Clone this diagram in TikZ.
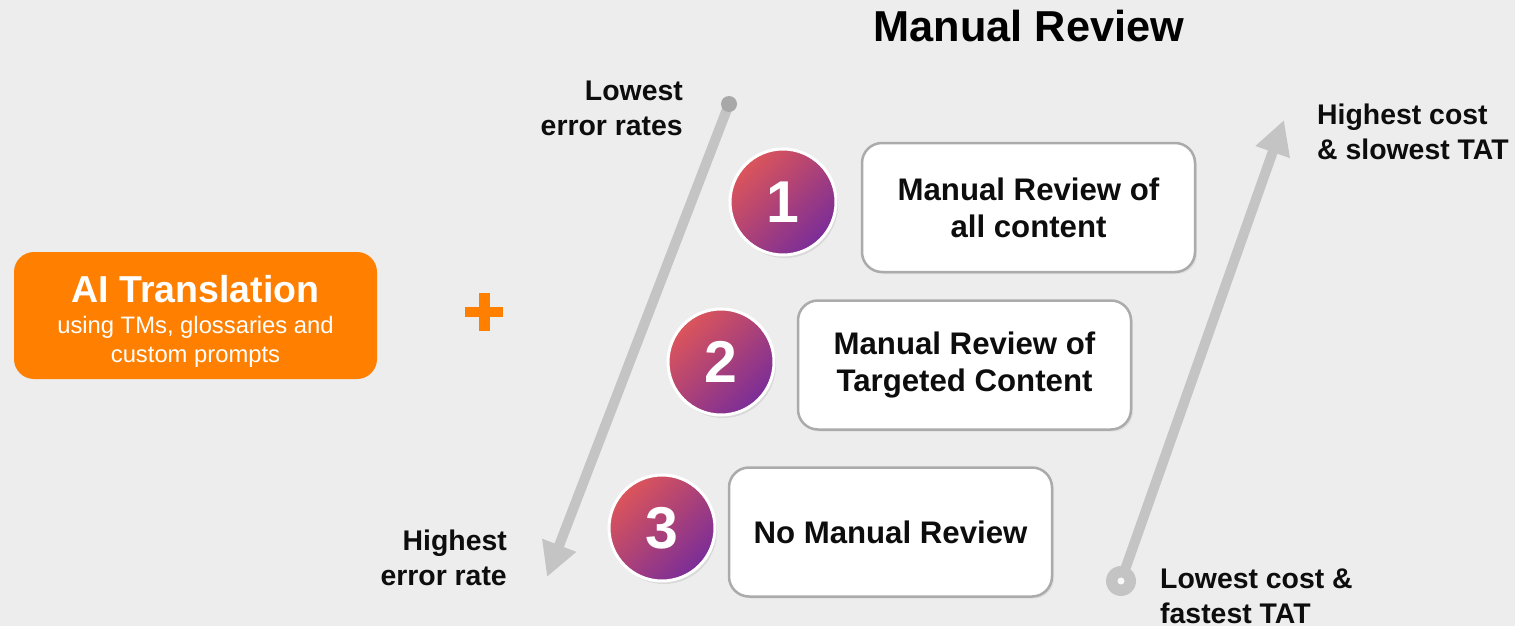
\documentclass[tikz,border=0pt]{standalone}
\usepackage{fontspec}
\setmainfont{Liberation Sans}
\usetikzlibrary{arrows.meta,shadows}
\definecolor{bg}{HTML}{EDEDED}
\definecolor{aiorange}{HTML}{FF8000}
\definecolor{arrowgray}{HTML}{C4C4C4}
\definecolor{dotgray}{HTML}{A8A8A8}
\definecolor{boxborder}{HTML}{ABABAB}
\definecolor{numred}{HTML}{DC555A}
\definecolor{numpurple}{HTML}{7A2D98}
\definecolor{txt}{HTML}{0D0D0D}
\tikzset{
  reviewbox/.style={draw=boxborder, line width=2.5pt, fill=white, rounded corners=20pt,
    minimum height=129pt, align=center, text=txt, font=\bfseries\fontsize{31.2}{37}\selectfont,
    drop shadow={opacity=0.12, shadow xshift=2pt, shadow yshift=-2pt}},
  numcircle/.style={circle, minimum size=106pt, inner sep=0pt, draw=white, line width=3pt,
    top color=numred, bottom color=numpurple, shading angle=45, text=white,
    font=\bfseries\fontsize{59}{59}\selectfont,
    drop shadow={opacity=0.18, shadow xshift=2pt, shadow yshift=-3pt}},
  sidelabel/.style={text=txt, font=\bfseries\fontsize{28.4}{35}\selectfont, inner sep=0pt},
  scalearrow/.style={draw=arrowgray, line width=10pt, -{Triangle[length=34pt,width=34pt]}},
}
\begin{document}
\begin{tikzpicture}[x=1pt,y=-1pt]
\useasboundingbox[fill=bg] (0,0) rectangle (1515,626);

% title
\node[text=black, font=\bfseries\fontsize{43.3}{43}\selectfont, inner sep=0pt] (title) at (1029,26) {Manual Review};

% AI translation box
\node[fill=aiorange, rounded corners=20pt, minimum width=363pt, minimum height=127pt, inner sep=0pt] (ai) at (195.5,315.5) {};
\node[text=white, font=\bfseries\fontsize{37.5}{40}\selectfont, inner sep=0pt] (aititle) at (195.5,289) {AI Translation};
\node[text=white, align=center, font=\fontsize{23.8}{29}\selectfont, inner sep=0pt] (aisub) at (195.5,341.5) {using TMs, glossaries and\\custom prompts};

% plus sign
\coordinate (plus) at (484,312);
\fill[aiorange] ([xshift=-19pt,yshift=-5pt]plus) rectangle ([xshift=19pt,yshift=5pt]plus);
\fill[aiorange] ([xshift=-5.5pt,yshift=-19pt]plus) rectangle ([xshift=5.5pt,yshift=19pt]plus);

% left arrow (error rate)
\coordinate (la1) at (729,104);
\coordinate (la2) at (547,577);
\draw[scalearrow] (la1) -- (la2);
\fill[dotgray] (la1) circle (8pt);

% right arrow (cost)
\coordinate (ra1) at (1121,581);
\coordinate (ra2) at (1284,120);
\draw[scalearrow] (ra1) -- (ra2);
\fill[arrowgray] (ra1) circle (15pt);
\fill[white!60!bg] (ra1) circle (3.5pt);

% number circles
\node[numcircle] (n1) at (783,202) {1};
\node[numcircle] (n2) at (721,362) {2};
\node[numcircle] (n3) at (662,528) {3};

% review boxes
\node[reviewbox, minimum width=333pt] (b1) at (1028.5,207.5) {Manual Review of\\all content};
\node[reviewbox, minimum width=333pt] (b2) at (964.5,365) {Manual Review of\\Targeted Content};
\node[reviewbox, minimum width=323pt] (b3) at (890.5,532) {No Manual Review};

% side labels
\node[sidelabel, anchor=east, align=right] (lowerr) at (683,108) {Lowest\\error rates};
\node[sidelabel, anchor=east, align=right] (higherr) at (507,558) {Highest\\error rate};
\node[sidelabel, anchor=west, align=left] (highcost) at (1317,132) {Highest cost\\\& slowest TAT};
\node[sidelabel, anchor=west, align=left] (lowcost) at (1160,596) {Lowest cost \&\\fastest TAT};
\end{tikzpicture}
\end{document}
